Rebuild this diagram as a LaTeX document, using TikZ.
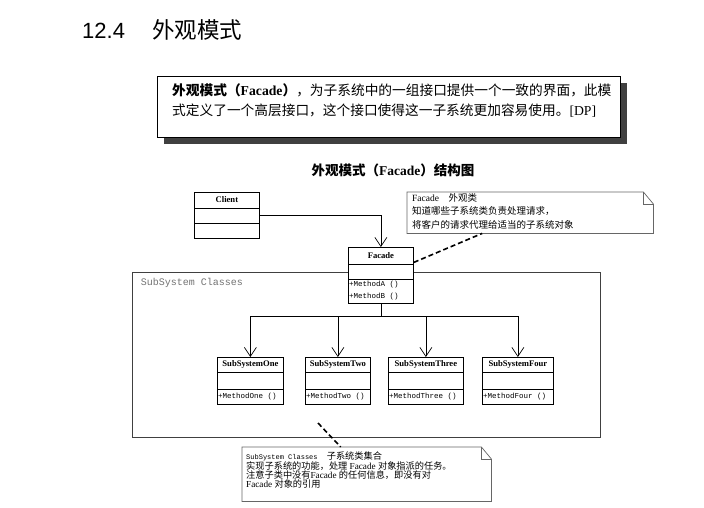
\documentclass[tikz,border=0pt]{standalone}
\usepackage{fontspec}
\setmainfont{Liberation Serif}
\setmonofont{Liberation Mono}
\newfontfamily\cjk{Noto Sans CJK SC}
\newfontfamily\titlefont{Liberation Sans}
\usepackage{tikz}
\usepackage{xcolor}
\usetikzlibrary{shadows,arrows.meta}

\newcommand{\zh}[1]{{\cjk #1}}

\tikzset{
  classbox/.style={draw, line width=0.8pt, fill=white, inner sep=0pt},
  classname/.style={font=\bfseries\fontsize{8.6}{10}\selectfont, inner sep=0pt},
  classops/.style={font=\ttfamily\fontsize{7.5}{12}\selectfont, align=left, inner sep=1pt},
  assoc/.style={line width=0.7pt, -{Straight Barb[length=9pt,width=12pt,line width=0.7pt]}},
  noteline/.style={draw=black!60, line width=0.7pt},
  dashlink/.style={line width=1.6pt, dash pattern=on 5pt off 3pt},
  notetext/.style={align=left, inner sep=0pt, anchor=north west},
}

% class box: name, left, top, width, three compartment heights, title, operations
\newcommand{\umlclass}[9]{%
  \node[classbox, anchor=north west, minimum width=#4pt, minimum height=#5pt+#6pt+#7pt] (#1) at (#2,#3) {};
  \draw[line width=0.8pt] ([yshift=-#5pt]#1.north west) -- ([yshift=-#5pt]#1.north east);
  \draw[line width=0.8pt] ([yshift=-#5pt-#6pt]#1.north west) -- ([yshift=-#5pt-#6pt]#1.north east);
  \node[classname] at ([yshift=-#5pt/2]#1.north) {#8};
  \node[classops, anchor=west] at ([yshift=-#5pt-#6pt-#7pt/2]#1.north west) {#9};
}

% note outline with folded corner
\newcommand{\notefold}[1]{%
  \draw[noteline] (#1.south west) -- (#1.north west) -- ([xshift=-10pt]#1.north east)
    -- ([yshift=-12pt]#1.north east) -- (#1.south east) -- cycle;
  \draw[noteline] ([xshift=-10pt]#1.north east) |- ([yshift=-12pt]#1.north east);
}

\begin{document}
\begin{tikzpicture}[x=1pt, y=-1pt]
  \useasboundingbox[fill=white] (0,0) rectangle (704,508);

  % Section heading
  \node[anchor=base west, inner sep=0pt, font=\titlefont\fontsize{22}{26}\selectfont] (secnum) at (82,39) {12.4};
  \node[anchor=base west, inner sep=0pt, font=\cjk\fontsize{22.5}{26}\selectfont] (sectitle) at (152,39) {外观模式};

  % Definition box with shadow
  \node[draw, line width=0.9pt, fill=white, minimum width=463pt, minimum height=61pt,
        drop shadow={shadow xshift=7pt, shadow yshift=-7pt, fill=black!75, opacity=1}] (defbox) at (388.5,106.5) {};
  \node[anchor=north west, align=left, inner sep=0pt, font=\fontsize{13.7}{20}\selectfont] (deftext) at (172,83)
    {{\bfseries\zh{外观模式（}Facade\zh{）}}\zh{，为子系统中的一组接口提供一个一致的界面，此模}\\
     \zh{式定义了一个高层接口，这个接口使得这一子系统更加容易使用。}[DP]};

  % Caption
  \node[font=\bfseries\fontsize{13.5}{16}\selectfont, inner sep=0pt] (caption) at (393,170.5)
    {\zh{外观模式（}Facade\zh{）结构图}};

  % Client
  \umlclass{client}{194}{192}{65}{16}{15}{15}{Client}{}

  % Note for Facade
  \node[anchor=north west, minimum width=246pt, minimum height=41pt, inner sep=0pt] (note1) at (407,192) {};
  \notefold{note1}
  \node[notetext, font=\fontsize{9.5}{13.5}\selectfont] (note1text) at (412,193)
    {Facade\quad\zh{外观类}\\
     \zh{知道哪些子系统类负责处理请求，}\\
     \zh{将客户的请求代理给适当的子系统对象}};

  % SubSystem Classes package
  \node[draw=black!75, line width=0.8pt, minimum width=468pt, minimum height=165pt, inner sep=0pt] (subsys) at (366,354.5) {};
  \node[anchor=north west, text=black!55, font=\ttfamily\fontsize{10}{12}\selectfont, inner sep=0pt] (subsyslabel)
    at ([shift={(9pt,-6pt)}]subsys.north west) {SubSystem Classes};

  % Facade and subsystems
  \umlclass{facade}{348}{247}{65}{17}{15}{24}{Facade}{+MethodA ()\\+MethodB ()}
  \umlclass{one}{217}{357}{66}{15}{17}{15}{SubSystemOne}{+MethodOne ()}
  \umlclass{two}{305}{357}{65}{15}{17}{15}{SubSystemTwo}{+MethodTwo ()}
  \umlclass{three}{388}{357}{75}{15}{17}{15}{SubSystemThree}{+MethodThree ()}
  \umlclass{four}{482}{357}{71}{15}{17}{15}{SubSystemFour}{+MethodFour ()}

  % Associations
  \draw[assoc] (client.east) -| (facade.north);
  \coordinate (bus) at ([yshift=-13pt]facade.south);
  \foreach \sub in {one,two,three,four}
    \draw[assoc] (facade.south) -- (bus) -| (\sub.north);

  % Note for subsystems
  \node[anchor=north west, minimum width=249pt, minimum height=54pt, inner sep=0pt] (note2) at (242,447) {};
  \notefold{note2}
  \node[notetext, font=\fontsize{9.2}{9.3}\selectfont] (note2text) at (246,452)
    {{\ttfamily\fontsize{7}{9.3}\selectfont SubSystem Classes}\quad\zh{子系统类集合}\\
     \zh{实现子系统的功能，处理} Facade \zh{对象指派的任务。}\\
     \zh{注意子类中没有}Facade \zh{的任何信息，即没有对}\\
     Facade \zh{对象的引用}};

  % Dashed note links
  \draw[dashlink] ([yshift=13pt]facade.east) -- ([xshift=-48pt]note1.south);
  \coordinate (pkgnote) at (318,423);
  \draw[dashlink] (pkgnote) -- ([xshift=-26pt]note2.north);
\end{tikzpicture}
\end{document}
